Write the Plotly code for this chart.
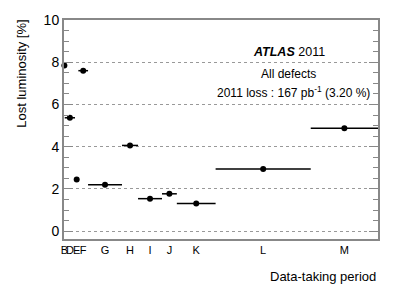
import plotly.graph_objects as go

periods = ["B", "D", "E", "F", "G", "H", "I", "J", "K", "L", "M"]
period_lumi = [12, 170, 55, 160, 560, 265, 395, 245, 640, 1570, 1110]  # pb^-1
lost_lumi = [7.85, 5.37, 2.45, 7.6, 2.2, 4.06, 1.54, 1.77, 1.31, 2.95, 4.87]  # %

edges = [0]
for w in period_lumi:
    edges.append(edges[-1] + w)
centers = [(edges[i] + edges[i + 1]) / 2 for i in range(len(periods))]
half = [w / 2 for w in period_lumi]

FONT = "Liberation Sans, Arial, sans-serif"
fig = go.Figure()
fig.add_trace(go.Scatter(
    x=centers, y=lost_lumi, mode="markers",
    marker=dict(color="black", size=6),
    error_x=dict(type="data", array=half, color="black", thickness=1.5, width=0),
    showlegend=False, cliponaxis=False, hoverinfo="skip",
))

fig.update_layout(
    width=399, height=286,
    margin=dict(l=64, r=21, t=15, b=47),
    paper_bgcolor="white", plot_bgcolor="white",
    font=dict(family=FONT, size=13, color="black"),
    hovermode=False,
    xaxis=dict(
        range=[0, edges[-1]], tickmode="array", tickvals=centers, ticktext=periods,
        tickangle=0, ticks="", showgrid=False, zeroline=False,
        showline=True, linecolor="#888888", linewidth=2, mirror=True,
        tickfont=dict(size=11, color="black"),
    ),
    yaxis=dict(
        range=[-0.37, 10], tickmode="array", tickvals=[0, 2, 4, 6, 8, 10],
        ticks="inside", ticklen=9, tickcolor="#888888", tickwidth=1,
        showgrid=True, gridcolor="#999999", griddash="dot", gridwidth=1,
        zeroline=False, showline=True, linecolor="#888888", linewidth=2, mirror="ticks",
        minor=dict(dtick=0.5, ticks="inside", ticklen=5, tickcolor="#888888", showgrid=False),
        tickfont=dict(size=14, color="black"),
    ),
    annotations=[
        dict(text="Lost luminosity [%]", xref="paper", yref="paper", x=-0.134, y=1.01,
             xanchor="center", yanchor="top", textangle=-90, showarrow=False,
             font=dict(size=13)),
        dict(text="Data-taking period", xref="paper", yref="paper", x=1.0, y=-0.13,
             xanchor="right", yanchor="top", showarrow=False, font=dict(size=13)),
        dict(text="<b><i>ATLAS</i></b> 2011", xref="paper", yref="paper", x=0.715, y=0.854,
             xanchor="center", yanchor="middle", showarrow=False, font=dict(size=12.5)),
        dict(text="All defects", xref="paper", yref="paper", x=0.715, y=0.754,
             xanchor="center", yanchor="middle", showarrow=False, font=dict(size=12)),
        dict(text="2011 loss : 167 pb<sup>-1</sup> (3.20 %)", xref="paper", yref="paper",
             x=0.73, y=0.67, xanchor="center", yanchor="middle", showarrow=False,
             font=dict(size=12)),
    ],
)

fig.write_html("out.html", config={"staticPlot": True, "displayModeBar": False})
with open("out.html", "r", encoding="utf-8") as f:
    html = f.read()
html = html.replace("<head>", "<head><style>html,body{margin:0;padding:0;overflow:hidden;}</style>", 1)
with open("out.html", "w", encoding="utf-8") as f:
    f.write(html)
